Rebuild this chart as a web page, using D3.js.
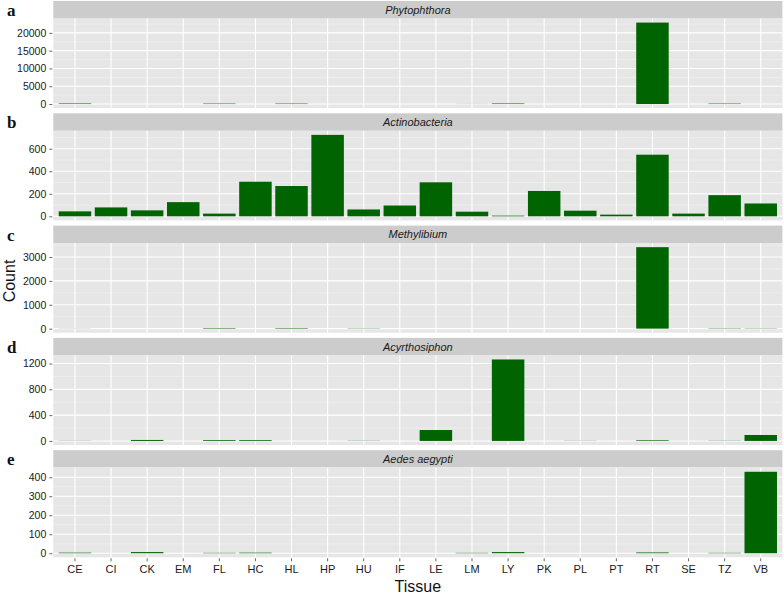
<!DOCTYPE html>
<html><head><meta charset="utf-8">
<script src="https://cdn.jsdelivr.net/npm/d3@7"></script>
<style>body{margin:0;background:#fff}</style>
</head><body>
<svg id="chart" width="784" height="596"></svg>
<script>
const tissues = ["CE","CI","CK","EM","FL","HC","HL","HP","HU","IF","LE","LM","LY","PK","PL","PT","RT","SE","TZ","VB"];
const letters = ["a","b","c","d","e"];
const titles = ["Phytophthora","Actinobacteria","Methylibium","Acyrthosiphon","Aedes aegypti"];
const phytophthora   = [150,0,0,0,120,0,120,0,0,0,0,30,150,0,0,0,22900,0,120,0];
const actinobacteria = [44,79,53,126,24,307,269,723,61,96,302,41,6,225,50,15,547,24,188,114];
const methylibium    = [5,0,0,0,20,0,20,0,10,0,0,0,0,0,0,0,3414,0,12,10];
const acyrthosiphon  = [2,0,15,0,12,12,0,0,3,0,169,0,1263,0,2,0,10,0,3,92];
const aedes          = [3,0,6,0,2,3,0,0,0,0,0,2,6,0,0,0,4,0,2,429];
const ticksA = [0,5000,10000,15000,20000];
const ticksB = [0,200,400,600];
const ticksC = [0,1000,2000,3000];
const ticksD = [0,400,800,1200];
const ticksE = [0,100,200,300,400];
const seriesList = [phytophthora, actinobacteria, methylibium, acyrthosiphon, aedes];
const tickList = [ticksA, ticksB, ticksC, ticksD, ticksE];

const svg = d3.select("#chart");
const left = 53.3, right = 782.4;
const top0 = 1, pitch = 112.3, stripH = 17.5, plotH = 89.6;
const font = "'Liberation Sans', Arial, sans-serif";

const x = d3.scaleBand().domain(tissues).range([left, right]).paddingInner(0.1).paddingOuter(0.15);

seriesList.forEach((vals, i) => {
  const sTop = top0 + i * pitch;
  const pTop = sTop + stripH;
  const pBot = pTop + plotH;
  const mx = d3.max(vals);
  const y = d3.scaleLinear().domain([-0.05 * mx, 1.05 * mx]).range([pBot, pTop]);
  const ticks = tickList[i];
  const g = svg.append("g");
  g.append("rect").attr("x", left).attr("y", sTop).attr("width", right - left).attr("height", stripH).attr("fill", "#cccccc");
  g.append("text").attr("x", (left + right) / 2).attr("y", sTop + stripH / 2 + 4)
    .attr("text-anchor", "middle").attr("font-family", font).attr("font-style", "italic")
    .attr("font-size", 11).attr("fill", "#1a1a1a").text(titles[i]);
  g.append("rect").attr("x", left).attr("y", pTop).attr("width", right - left).attr("height", plotH).attr("fill", "#e6e6e6");
  const step = ticks[1] - ticks[0];
  const minors = [];
  for (let v = ticks[0] + step / 2; v <= 1.05 * mx; v += step) minors.push(v);
  g.selectAll(".mn").data(minors).enter().append("line")
    .attr("x1", left).attr("x2", right).attr("y1", d => y(d)).attr("y2", d => y(d))
    .attr("stroke", "#f2f2f2").attr("stroke-width", 0.6);
  g.selectAll(".mj").data(ticks).enter().append("line")
    .attr("x1", left).attr("x2", right).attr("y1", d => y(d)).attr("y2", d => y(d))
    .attr("stroke", "#ffffff").attr("stroke-width", 1.1);
  g.selectAll(".vx").data(tissues).enter().append("line")
    .attr("x1", d => x(d) + x.bandwidth() / 2).attr("x2", d => x(d) + x.bandwidth() / 2)
    .attr("y1", pTop).attr("y2", pBot).attr("stroke", "#ffffff").attr("stroke-width", 1.1);
  g.selectAll(".bar").data(tissues.map((t, k) => ({t, v: vals[k]})).filter(d => d.v > 0)).enter().append("rect")
    .attr("x", d => x(d.t)).attr("width", x.bandwidth())
    .attr("y", d => y(d.v)).attr("height", d => y(0) - y(d.v))
    .attr("fill", "#006400");
  const ax = d3.axisLeft(y).tickValues(ticks).tickSize(3).tickPadding(3).tickFormat(d3.format("d"));
  const axg = g.append("g").attr("transform", `translate(${left - 1},0)`).call(ax);
  axg.select(".domain").remove();
  axg.selectAll(".tick line").attr("stroke", "#666");
  axg.selectAll(".tick text").attr("font-family", font).attr("font-size", 10.5).attr("fill", "#1a1a1a");
  svg.append("text").attr("x", 7).attr("y", sTop + 15).attr("font-family", "'Liberation Serif', 'Times New Roman', serif")
    .attr("font-weight", "bold").attr("font-size", 17).attr("fill", "#111").text(letters[i]);
  if (i === seriesList.length - 1) {
    const xa = d3.axisBottom(x).tickSize(3).tickPadding(4);
    const xg = svg.append("g").attr("transform", `translate(0,${pBot + 1})`).call(xa);
    xg.select(".domain").remove();
    xg.selectAll(".tick line").attr("stroke", "#666");
    xg.selectAll(".tick text").attr("font-family", font).attr("font-size", 11).attr("fill", "#1a1a1a");
    svg.append("text").attr("x", (left + right) / 2).attr("y", 592).attr("text-anchor", "middle")
      .attr("font-family", font).attr("font-size", 16).attr("fill", "#111").text("Tissue");
  }
});
svg.append("text").attr("transform", "translate(15,281) rotate(-90)").attr("text-anchor", "middle")
  .attr("font-family", font).attr("font-size", 16).attr("fill", "#111").text("Count");
</script>
</body></html>
